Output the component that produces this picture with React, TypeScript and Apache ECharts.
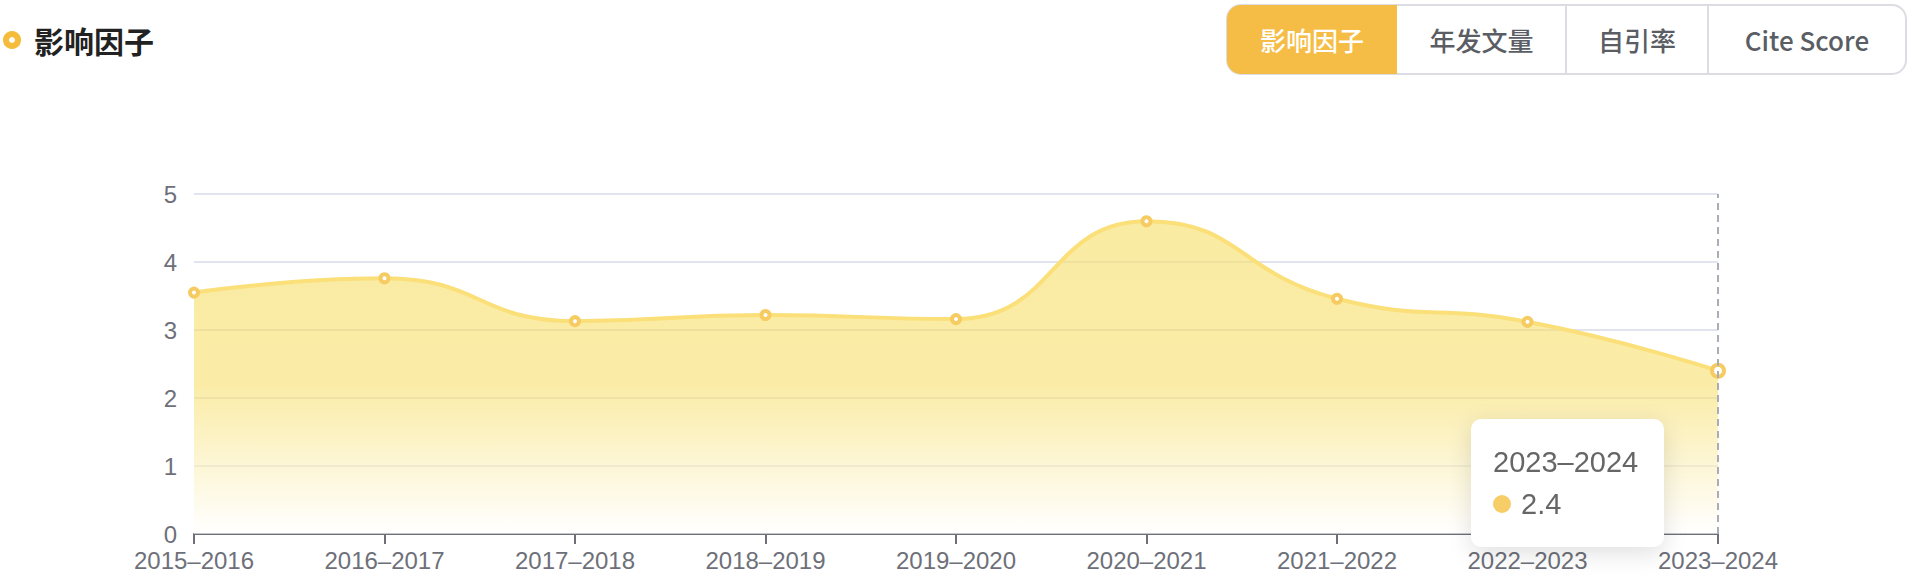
import React, { useEffect, useRef } from "react";
import * as echarts from "echarts";

const categories = [
  "2015–2016",
  "2016–2017",
  "2017–2018",
  "2018–2019",
  "2019–2020",
  "2020–2021",
  "2021–2022",
  "2022–2023",
  "2023–2024",
];
const impactFactor = [3.55, 3.76, 3.13, 3.22, 3.16, 4.6, 3.46, 3.12, 2.4];
const yTicks = { min: 0, max: 5, interval: 1 };
const tabs = ["影响因子", "年发文量", "自引率", "Cite Score"];
const tabWidths = [170, 169, 142, 198];
const titleText = "影响因子";
const activeIndex = 8;

const FONT = "'Liberation Sans', 'Noto Sans CJK SC', sans-serif";
const CJK = "'Noto Sans CJK SC', 'Liberation Sans', sans-serif";

export default function App() {
  const ref = useRef<HTMLDivElement>(null);

  useEffect(() => {
    document.body.style.margin = "0";
    if (!ref.current) return;
    const chart = echarts.init(ref.current, undefined, { renderer: "svg" });

    const tabX0 = 1227;
    const tabY = 5;
    const tabH = 69;
    const totalW = tabWidths.reduce((a, b) => a + b, 0);
    const tabGraphics: any[] = [
      {
        type: "rect",
        shape: { x: tabX0, y: tabY, width: totalW, height: tabH, r: 14 },
        style: { fill: "#fff", stroke: "#dcdde2", lineWidth: 2 },
      },
    ];
    let x = tabX0;
    tabs.forEach((t, i) => {
      const w = tabWidths[i];
      if (i === 0) {
        tabGraphics.push({
          type: "rect",
          shape: { x, y: tabY, width: w, height: tabH, r: [14, 0, 0, 14] },
          style: { fill: "#f5bd45" },
        });
      } else if (i > 1) {
        tabGraphics.push({
          type: "line",
          shape: { x1: x, y1: tabY, x2: x, y2: tabY + tabH },
          style: { stroke: "#dcdde2", lineWidth: 2 },
        });
      }
      tabGraphics.push({
        type: "text",
        x: x + w / 2,
        y: tabY + tabH / 2,
        style: {
          text: t,
          fill: i === 0 ? "#ffffff" : "#5a5d63",
          font: `500 26px ${CJK}`,
          align: "center",
          verticalAlign: "middle",
        },
      });
      x += w;
    });

    const makeArea = () =>
      new echarts.graphic.LinearGradient(0, 0, 0, 1, [
        { offset: 0, color: "rgba(247,222,102,0.6)" },
        { offset: 0.52, color: "rgba(247,222,102,0.58)" },
        { offset: 1, color: "rgba(255,255,255,0.6)" },
      ]);
    const lineColor = "#fbdf78";

    chart.setOption({
      animation: false,
      grid: { left: 194, right: 198, top: 194, bottom: 44 },
      graphic: [
        {
          type: "circle",
          shape: { cx: 12, cy: 40, r: 6 },
          style: { fill: "#fff", stroke: "#f5bb3b", lineWidth: 6 },
        },
        {
          type: "text",
          x: 34,
          y: 40,
          style: {
            text: titleText,
            fill: "#222222",
            font: `bold 30px ${CJK}`,
            verticalAlign: "middle",
          },
        },
        ...tabGraphics,
      ],
      tooltip: {
        trigger: "axis",
        triggerOn: "none",
        alwaysShowContent: true,
        backgroundColor: "#ffffff",
        borderWidth: 0,
        padding: [22, 22],
        extraCssText:
          "border-radius:10px;box-shadow:0 6px 24px rgba(0,0,0,0.13);min-width:149px;",
        textStyle: { color: "#666", fontSize: 29, fontFamily: FONT },
        axisPointer: {
          type: "line",
          z: 10,
          lineStyle: { color: "#a9adb8", width: 2, type: [7, 5] },
        },
        position: (point: number[], _p: any, _d: any, _r: any, size: any) => {
          return [point[0] - size.contentSize[0] - 54, point[1] + 48];
        },
        formatter: (params: any) => {
          const p = Array.isArray(params) ? params[0] : params;
          return (
            `<div style="line-height:42px;font-size:29px;color:#666;font-family:${FONT}">${p.name}</div>` +
            `<div style="line-height:42px;font-size:29px;color:#666;font-family:${FONT};display:flex;align-items:center">` +
            `<span style="display:inline-block;width:18px;height:18px;border-radius:9px;background:#f6cd66;margin-right:10px"></span>${p.value}</div>`
          );
        },
      },
      xAxis: {
        type: "category",
        data: categories,
        boundaryGap: false,
        axisLine: { lineStyle: { color: "#6e7079", width: 2 } },
        axisTick: { show: true, length: 10, lineStyle: { color: "#6e7079", width: 2 } },
        axisLabel: { color: "#6e7079", fontSize: 24, fontFamily: FONT, margin: 14 },
        splitLine: { show: false },
      },
      yAxis: {
        type: "value",
        min: yTicks.min,
        max: yTicks.max,
        interval: yTicks.interval,
        axisLine: { show: false },
        axisTick: { show: false },
        axisLabel: { color: "#6e7079", fontSize: 24, fontFamily: FONT, margin: 17 },
        splitLine: { lineStyle: { color: "#e1e4ef", width: 2 } },
      },
      series: [
        {
          type: "line",
          data: impactFactor,
          smooth: true,
          symbol: "circle",
          symbolSize: 8,
          showAllSymbol: true,
          lineStyle: { color: lineColor, width: 4 },
          itemStyle: { color: "#ffffff", borderColor: "#f6cb62", borderWidth: 4 },
          areaStyle: { opacity: 1, color: makeArea() },
          emphasis: {
            scale: 1.5,
            focus: "none",
            itemStyle: { color: "#ffffff", borderColor: "#f6cb62", borderWidth: 4 },
            lineStyle: { color: lineColor, width: 4 },
            areaStyle: { opacity: 1, color: makeArea() },
          },
          z: 3,
        },
      ],
    });

    chart.dispatchAction({ type: "showTip", seriesIndex: 0, dataIndex: activeIndex });
    chart.dispatchAction({ type: "highlight", seriesIndex: 0, dataIndex: activeIndex });

    return () => {
      chart.dispose();
    };
  }, []);

  return <div ref={ref} style={{ width: 1916, height: 578 }} />;
}
